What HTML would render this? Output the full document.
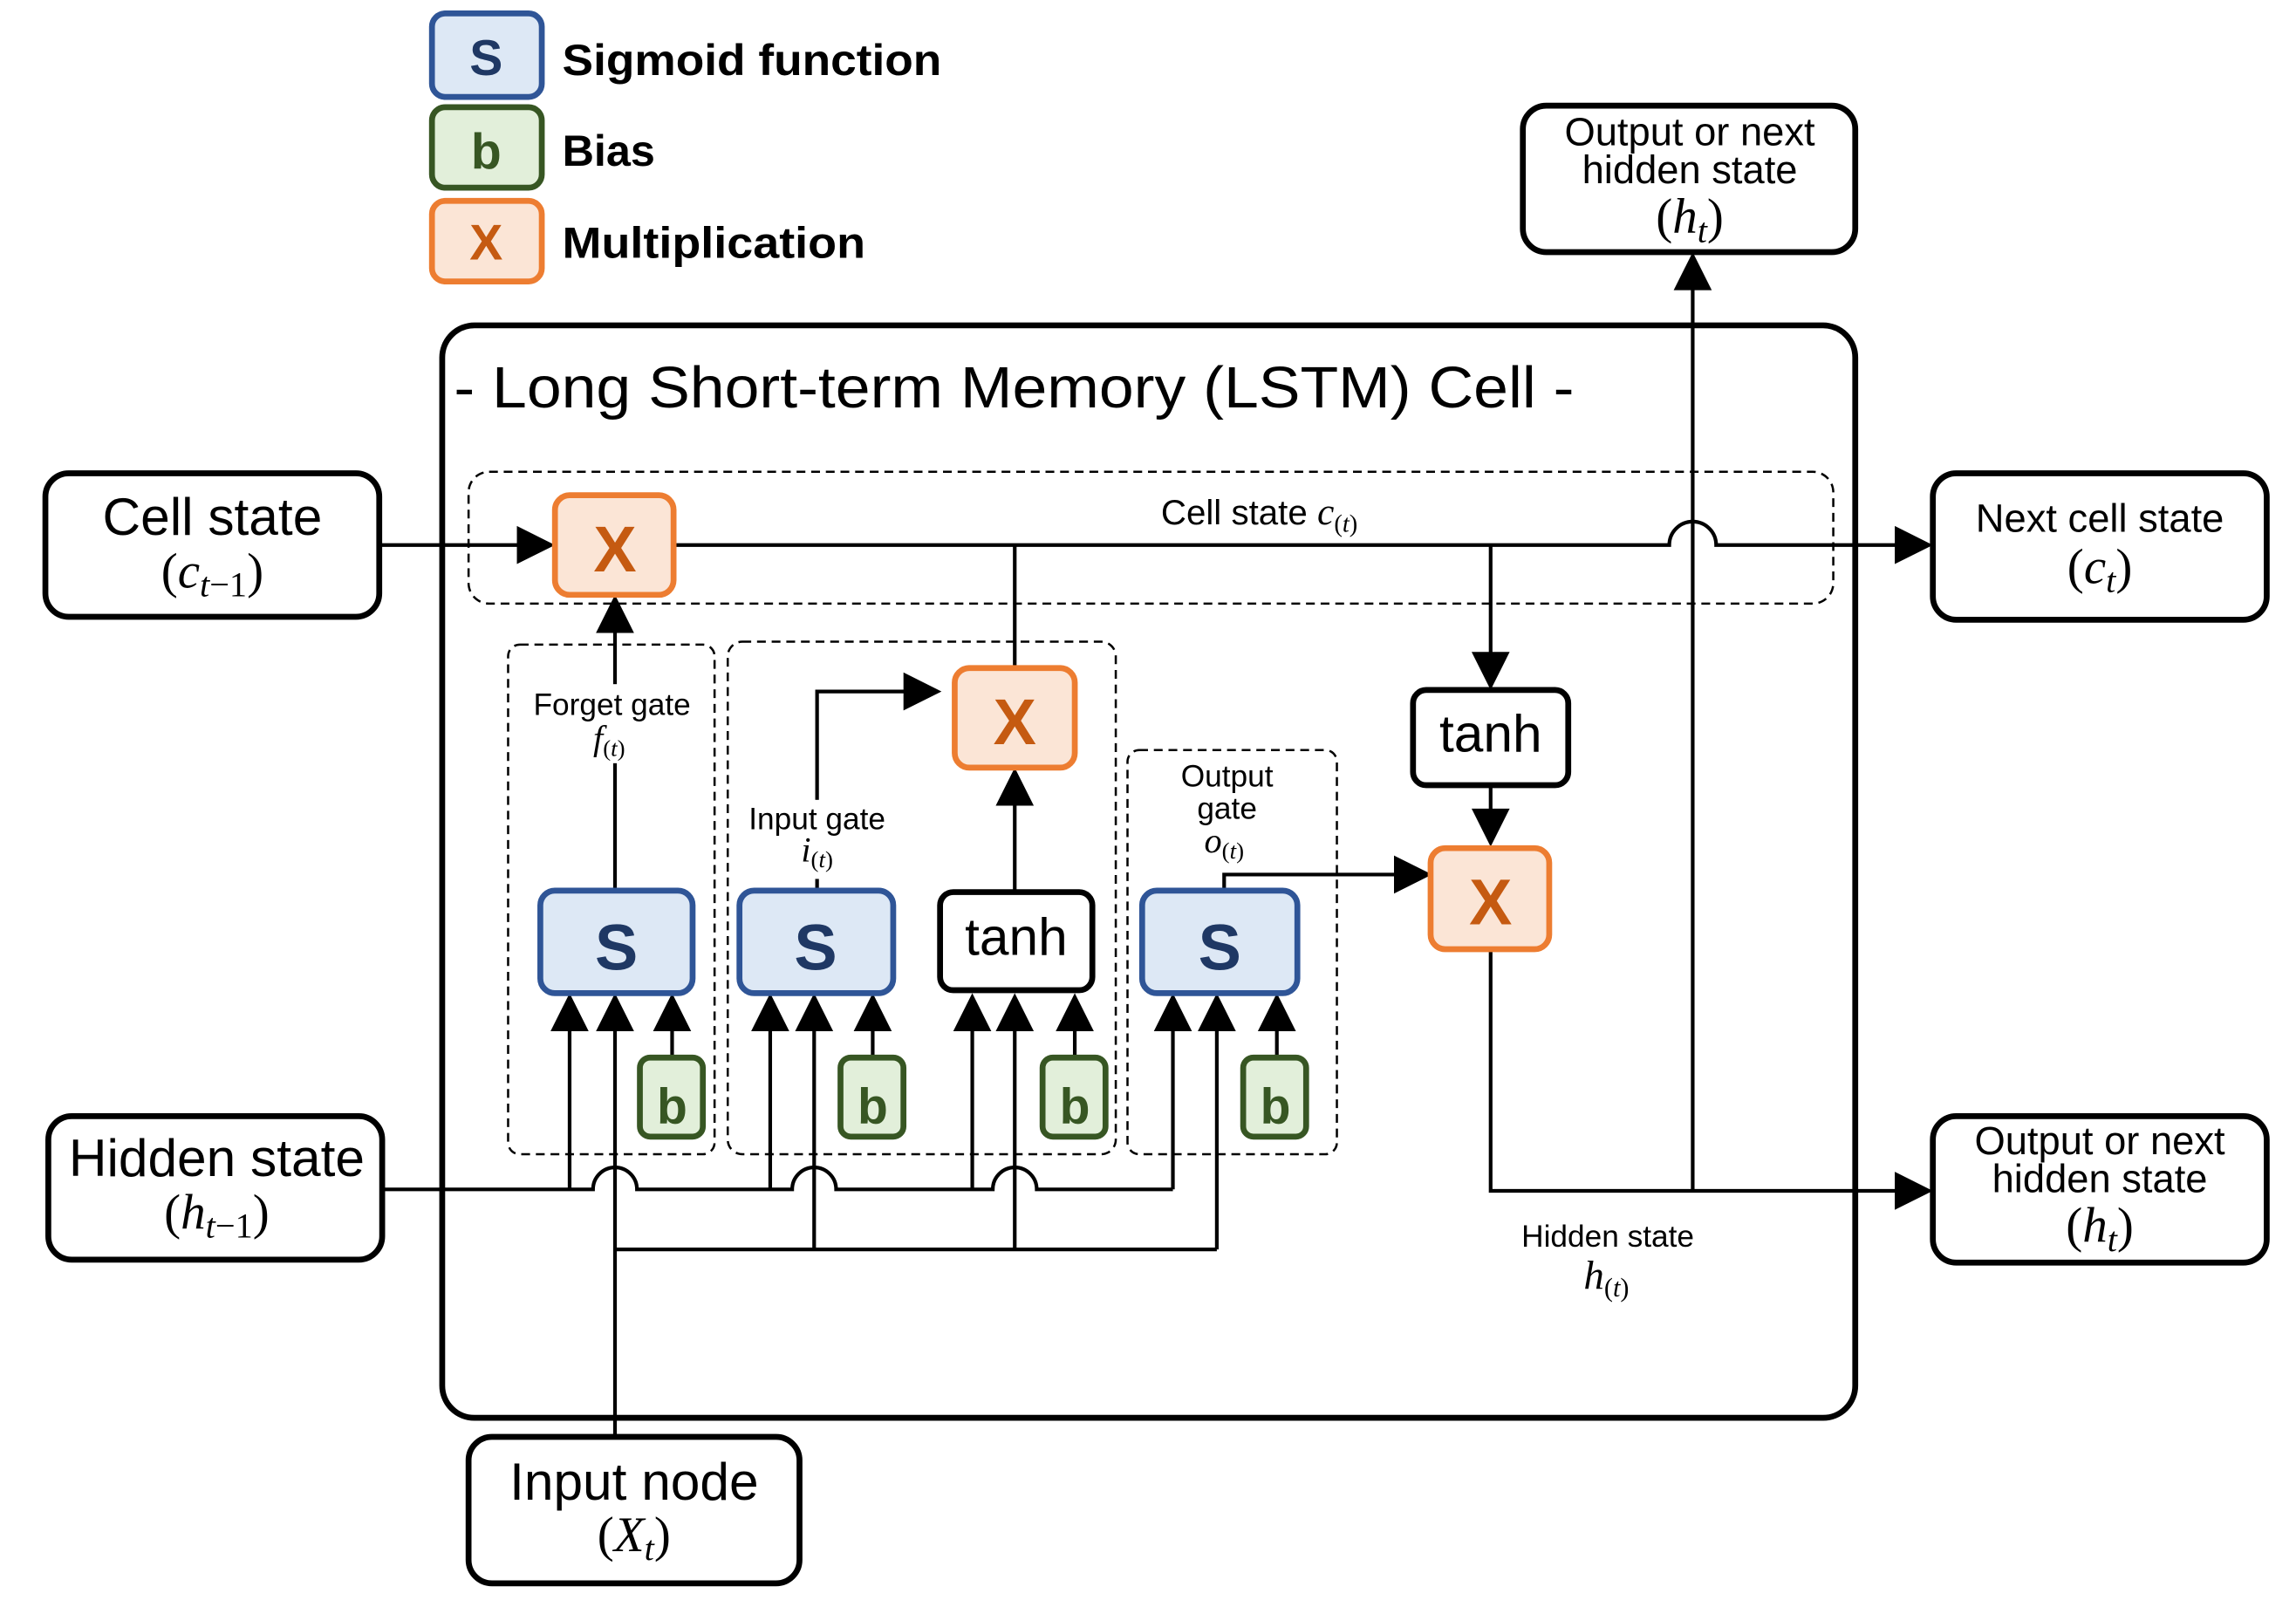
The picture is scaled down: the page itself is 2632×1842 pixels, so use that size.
<!DOCTYPE html>
<html><head><meta charset="utf-8"><style>
html,body{margin:0;padding:0;background:#fff;}
svg{display:block;}
text{font-family:"Liberation Sans","Noto Sans CJK KR",sans-serif;}
.m{font-family:"Liberation Serif",serif;font-style:italic;}
.r{font-family:"Liberation Serif",serif;}
</style></head><body>
<svg width="2632" height="1842" viewBox="0 0 1568 1097" xmlns="http://www.w3.org/2000/svg">
<g fill="none" stroke="#000">
<!-- legend -->
<rect x="295" y="9" width="75" height="57" rx="9" fill="#dde8f5" stroke="#2f5597" stroke-width="4"/>
<rect x="295" y="73" width="75" height="55" rx="9" fill="#e2efda" stroke="#375623" stroke-width="4"/>
<rect x="295" y="137" width="75" height="55" rx="9" fill="#fbe5d6" stroke="#ed7d31" stroke-width="4"/>
<!-- main cell -->
<rect x="302" y="222" width="965" height="746" rx="22" stroke-width="4"/>
<!-- dashed regions -->
<g stroke-width="1.5" stroke-dasharray="6,4">
<rect x="320" y="322" width="932" height="90" rx="14"/>
<rect x="347" y="440" width="141" height="348" rx="8"/>
<rect x="497" y="438" width="265" height="350" rx="10"/>
<rect x="770" y="512" width="143" height="276" rx="8"/>
</g>
<!-- outer boxes -->
<g stroke-width="4" fill="#fff">
<rect x="31" y="323" width="228" height="98" rx="16"/>
<rect x="1320" y="323" width="228" height="100" rx="16"/>
<rect x="1040" y="72" width="227" height="100" rx="16"/>
<rect x="1320" y="762" width="228" height="100" rx="16"/>
<rect x="33" y="762" width="228" height="98" rx="16"/>
<rect x="320" y="981" width="226" height="100" rx="16"/>
</g>
<!-- lines -->
<g stroke-width="2.5">
<path d="M259 372 H356"/>
<path d="M460 372 H1140 A16 16 0 0 1 1172 372 H1296"/>
<path d="M1156 813 V196"/>
<path d="M420 608 V430"/>
<path d="M558 608 V472 H618"/>
<path d="M693 372 V456"/>
<path d="M693 608 V548"/>
<path d="M836 608 V597 H954"/>
<path d="M1018 372 V448"/>
<path d="M1018 536 V556"/>
<path d="M1018 648 V813 H1296"/>
<path d="M261 812 H405 A15 15 0 0 1 435 812 H541 A15 15 0 0 1 571 812 H678 A15 15 0 0 1 708 812 H801"/>
<path d="M389 812 V700 M526 812 V700 M664 812 V700 M801 812 V700"/>
<path d="M420 981 V700"/>
<path d="M420 853 H831 M556 853 V700 M693 853 V700 M831 853 V700"/>
<path d="M459 722 V700 M596 722 V700 M734 722 V700 M872 722 V700"/>
</g>
</g>
<!-- label backgrounds -->
<g fill="#fff">
<rect x="356" y="467" width="125" height="54"/>
<rect x="504" y="546" width="110" height="54"/>
<rect x="800" y="518" width="76" height="72"/>
</g>
<!-- arrowheads -->
<g fill="#000">
<polygon points="379,372 353,359 353,385"/>
<polygon points="1320,372 1294,359 1294,385"/>
<polygon points="1156,172 1143,198 1169,198"/>
<polygon points="420,406 407,432 433,432"/>
<polygon points="643,472 617,459 617,485"/>
<polygon points="693,524 680,550 706,550"/>
<polygon points="978,597 952,584 952,610"/>
<polygon points="1018,471 1005,445 1031,445"/>
<polygon points="1018,578 1005,552 1031,552"/>
<polygon points="1320,813 1294,800 1294,826"/>
<polygon points="389,678 376,704 402,704"/><polygon points="420,678 407,704 433,704"/><polygon points="459,678 446,704 472,704"/>
<polygon points="526,678 513,704 539,704"/><polygon points="556,678 543,704 569,704"/><polygon points="596,678 583,704 609,704"/>
<polygon points="664,678 651,704 677,704"/><polygon points="693,678 680,704 706,704"/><polygon points="734,678 721,704 747,704"/>
<polygon points="801,678 788,704 814,704"/><polygon points="831,678 818,704 844,704"/><polygon points="872,678 859,704 885,704"/>
</g>
<!-- inner nodes -->
<g stroke-width="4">
<rect x="379" y="338" width="81" height="68" rx="10" fill="#fbe5d6" stroke="#ed7d31"/>
<rect x="652" y="456" width="82" height="68" rx="10" fill="#fbe5d6" stroke="#ed7d31"/>
<rect x="977" y="579" width="81" height="69" rx="10" fill="#fbe5d6" stroke="#ed7d31"/>
<rect x="369" y="608" width="104" height="70" rx="10" fill="#dde8f5" stroke="#2f5597"/>
<rect x="505" y="608" width="105" height="70" rx="10" fill="#dde8f5" stroke="#2f5597"/>
<rect x="780" y="608" width="106" height="70" rx="10" fill="#dde8f5" stroke="#2f5597"/>
<rect x="642" y="609" width="104" height="67" rx="9" fill="#fff" stroke="#000"/>
<rect x="965" y="471" width="106" height="65" rx="9" fill="#fff" stroke="#000"/>
<rect x="437" y="722" width="43" height="54" rx="7" fill="#e2efda" stroke="#375623"/>
<rect x="574" y="722" width="43" height="54" rx="7" fill="#e2efda" stroke="#375623"/>
<rect x="712" y="722" width="43" height="54" rx="7" fill="#e2efda" stroke="#375623"/>
<rect x="849" y="722" width="43" height="54" rx="7" fill="#e2efda" stroke="#375623"/>
</g>
<!-- texts -->
<g text-anchor="middle" font-weight="bold">
<text x="332" y="51" font-size="34" fill="#1f3864">S</text>
<text x="332" y="115" font-size="34" fill="#375623">b</text>
<text x="332" y="177" font-size="34" fill="#c55a11">X</text>
<text x="420" y="390" font-size="44" fill="#c55a11">X</text>
<text x="693" y="508" font-size="44" fill="#c55a11">X</text>
<text x="1018" y="631" font-size="44" fill="#c55a11">X</text>
<text x="421" y="662" font-size="44" fill="#1f3864">S</text>
<text x="557" y="662" font-size="44" fill="#1f3864">S</text>
<text x="833" y="662" font-size="44" fill="#1f3864">S</text>
<text x="459" y="767" font-size="34" fill="#375623">b</text>
<text x="596" y="767" font-size="34" fill="#375623">b</text>
<text x="734" y="767" font-size="34" fill="#375623">b</text>
<text x="871" y="767" font-size="34" fill="#375623">b</text>
</g>
<g font-weight="bold" font-size="30" fill="#000">
<text x="384" y="51" textLength="259" lengthAdjust="spacingAndGlyphs">Sigmoid function</text>
<text x="384" y="113">Bias</text>
<text x="384" y="176" textLength="207" lengthAdjust="spacingAndGlyphs">Multiplication</text>
</g>
<text x="310" y="278" font-size="40" textLength="765" lengthAdjust="spacingAndGlyphs">- Long Short-term Memory (LSTM) Cell -</text>
<g text-anchor="middle" fill="#000">
<text x="694" y="652" font-size="36">tanh</text>
<text x="1018" y="513" font-size="36">tanh</text>
<text x="145" y="365" font-size="36">Cell state</text>
<text x="145" y="401" font-size="34" class="r">(<tspan class="m">c</tspan><tspan class="m" font-size="24" dy="6">t</tspan><tspan font-size="24">−1</tspan><tspan dy="-6">)</tspan></text>
<text x="1434" y="363" font-size="27">Next cell state</text>
<text x="1434" y="398" font-size="34" class="r">(<tspan class="m">c</tspan><tspan class="m" font-size="24" dy="6">t</tspan><tspan dy="-6">)</tspan></text>
<text x="1154" y="99" font-size="27">Output or next</text>
<text x="1154" y="125" font-size="27">hidden state</text>
<text x="1154" y="159" font-size="34" class="r">(<tspan class="m">h</tspan><tspan class="m" font-size="24" dy="6">t</tspan><tspan dy="-6">)</tspan></text>
<text x="1434" y="788" font-size="27">Output or next</text>
<text x="1434" y="814" font-size="27">hidden state</text>
<text x="1434" y="848" font-size="34" class="r">(<tspan class="m">h</tspan><tspan class="m" font-size="24" dy="6">t</tspan><tspan dy="-6">)</tspan></text>
<text x="148" y="803" font-size="36">Hidden state</text>
<text x="148" y="839" font-size="34" class="r">(<tspan class="m">h</tspan><tspan class="m" font-size="24" dy="6">t</tspan><tspan font-size="24">−1</tspan><tspan dy="-6">)</tspan></text>
<text x="433" y="1024" font-size="36">Input node</text>
<text x="433" y="1059" font-size="34" class="r">(<tspan class="m">X</tspan><tspan class="m" font-size="24" dy="6">t</tspan><tspan dy="-6">)</tspan></text>
<text x="860" y="358" font-size="24">Cell state <tspan class="m" font-size="26">c</tspan><tspan class="r" font-size="17" dy="5">(<tspan class="m">t</tspan>)</tspan></text>
<text x="418" y="488" font-size="21">Forget gate</text>
<text x="416" y="512" font-size="24" class="r"><tspan class="m">f</tspan><tspan font-size="16" dy="4">(<tspan class="m">t</tspan>)</tspan></text>
<text x="558" y="566" font-size="21">Input gate</text>
<text x="558" y="588" font-size="24" class="r"><tspan class="m">i</tspan><tspan font-size="16" dy="4">(<tspan class="m">t</tspan>)</tspan></text>
<text x="838" y="537" font-size="21">Output</text>
<text x="838" y="559" font-size="21">gate</text>
<text x="836" y="582" font-size="24" class="r"><tspan class="m">o</tspan><tspan font-size="16" dy="4">(<tspan class="m">t</tspan>)</tspan></text>
<text x="1098" y="851" font-size="21">Hidden state</text>
<text x="1097" y="880" font-size="28" class="r"><tspan class="m">h</tspan><tspan font-size="18" dy="5">(<tspan class="m">t</tspan>)</tspan></text>
</g>
</svg>
</body></html>
